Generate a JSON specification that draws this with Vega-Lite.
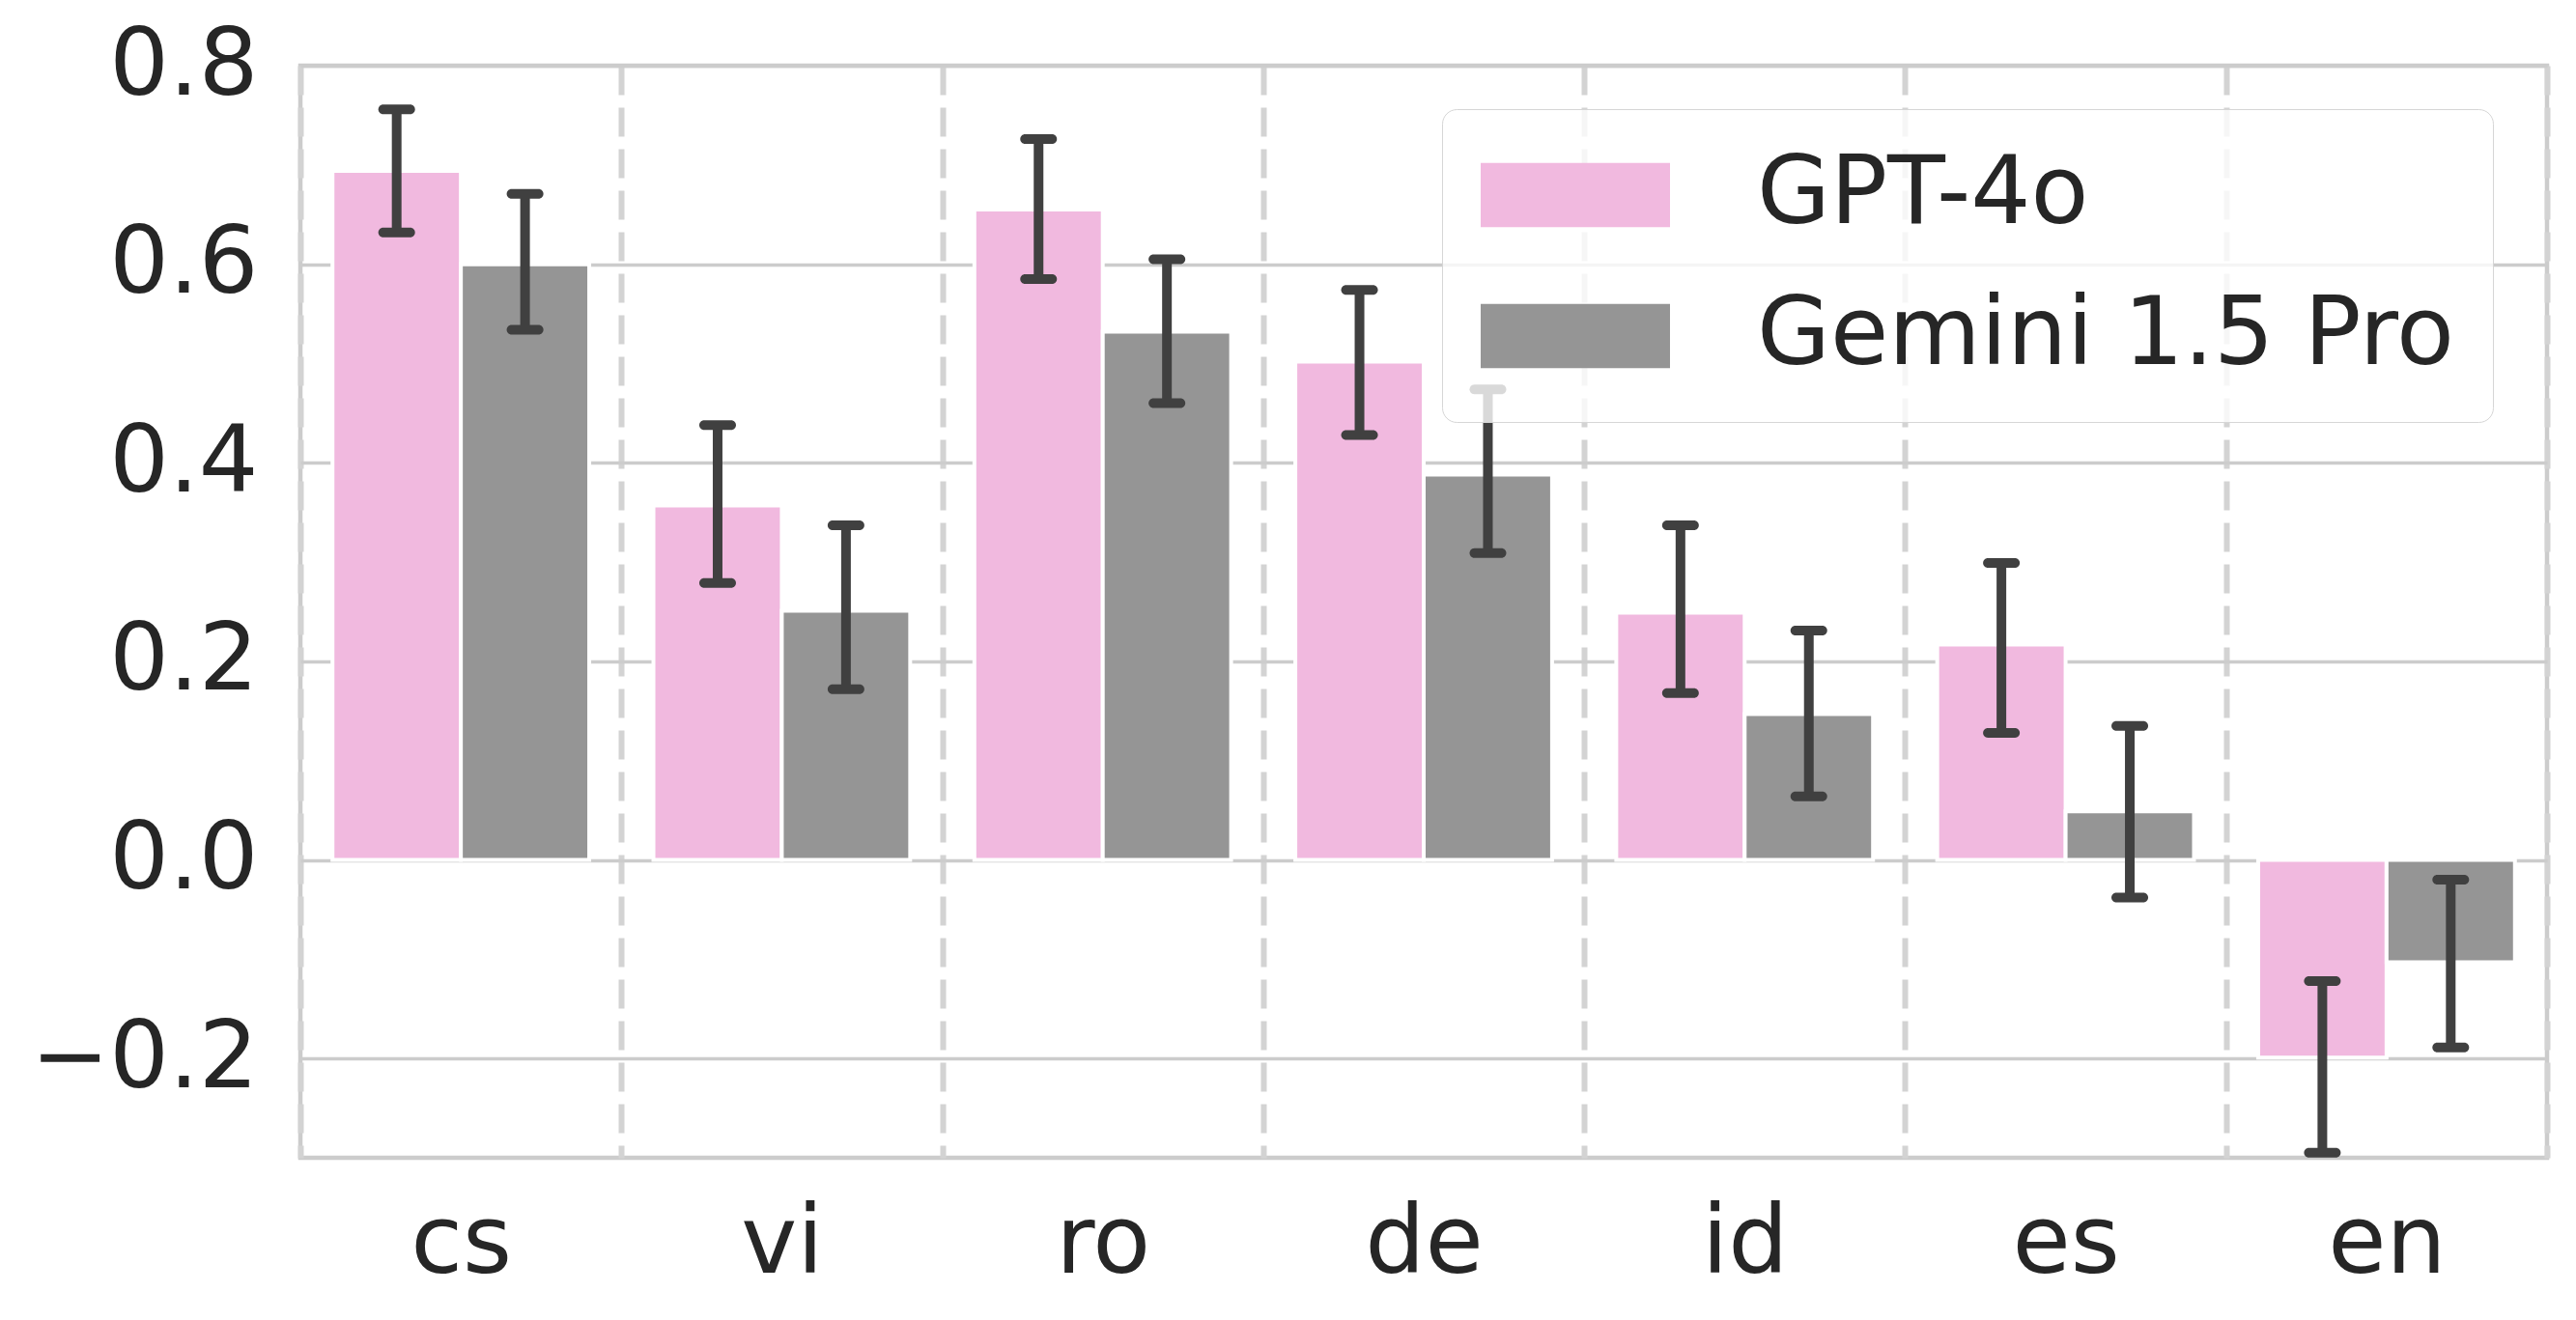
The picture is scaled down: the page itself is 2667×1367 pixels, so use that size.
{
  "$schema": "https://vega.github.io/schema/vega-lite/v6.json",
  "autosize": {"type": "none"},
  "padding": {"left": 311, "top": 68, "right": 30, "bottom": 168},
  "width": 2326,
  "height": 1131,
  "background": "white",
  "config": {
    "font": "DejaVu Sans",
    "view": {"stroke": "#cccccc", "strokeWidth": 4.5},
    "axis": {"labelFont": "DejaVu Sans", "labelColor": "#262626", "labelLimit": 2000}
  },
  "data": {
    "values": [
      {"lang": "cs", "model": "GPT-4o", "value": 0.694, "lo": 0.632, "hi": 0.756},
      {"lang": "cs", "model": "Gemini 1.5 Pro", "value": 0.600, "lo": 0.534, "hi": 0.671},
      {"lang": "vi", "model": "GPT-4o", "value": 0.357, "lo": 0.279, "hi": 0.438},
      {"lang": "vi", "model": "Gemini 1.5 Pro", "value": 0.251, "lo": 0.172, "hi": 0.337},
      {"lang": "ro", "model": "GPT-4o", "value": 0.655, "lo": 0.585, "hi": 0.726},
      {"lang": "ro", "model": "Gemini 1.5 Pro", "value": 0.532, "lo": 0.460, "hi": 0.605},
      {"lang": "de", "model": "GPT-4o", "value": 0.502, "lo": 0.428, "hi": 0.574},
      {"lang": "de", "model": "Gemini 1.5 Pro", "value": 0.388, "lo": 0.309, "hi": 0.474},
      {"lang": "id", "model": "GPT-4o", "value": 0.249, "lo": 0.168, "hi": 0.337},
      {"lang": "id", "model": "Gemini 1.5 Pro", "value": 0.147, "lo": 0.064, "hi": 0.231},
      {"lang": "es", "model": "GPT-4o", "value": 0.217, "lo": 0.128, "hi": 0.299},
      {"lang": "es", "model": "Gemini 1.5 Pro", "value": 0.049, "lo": -0.038, "hi": 0.135},
      {"lang": "en", "model": "GPT-4o", "value": -0.199, "lo": -0.295, "hi": -0.122},
      {"lang": "en", "model": "Gemini 1.5 Pro", "value": -0.103, "lo": -0.189, "hi": -0.020}
    ]
  },
  "encoding": {
    "x": {
      "field": "lang", "type": "nominal",
      "sort": ["cs", "vi", "ro", "de", "id", "es", "en"],
      "scale": {"paddingInner": 0, "paddingOuter": 0},
      "axis": {
        "title": null, "domain": false, "ticks": false, "tickSize": 0,
        "grid": true, "tickBand": "extent", "gridDash": [30, 13],
        "gridColor": "#d3d3d3", "gridWidth": 6,
        "labelFontSize": 98, "labelPadding": 41, "labelAngle": 0
      }
    },
    "xOffset": {
      "field": "model", "type": "nominal",
      "sort": ["GPT-4o", "Gemini 1.5 Pro"],
      "scale": {"paddingOuter": 0.25, "paddingInner": 0}
    }
  },
  "layer": [
    {
      "mark": {"type": "bar", "stroke": "white", "strokeWidth": 4},
      "encoding": {
        "y": {
          "field": "value", "type": "quantitative",
          "scale": {"domain": [-0.3, 0.8], "nice": false, "zero": false},
          "axis": {
            "title": null, "domain": false, "ticks": false, "tickSize": 0,
            "values": [-0.2, 0, 0.2, 0.4, 0.6, 0.8], "format": ".1f",
            "grid": true, "gridColor": "#cccccc", "gridWidth": 3.5,
            "labelFontSize": 97, "labelPadding": 44
          }
        },
        "color": {
          "field": "model", "type": "nominal",
          "scale": {"domain": ["GPT-4o", "Gemini 1.5 Pro"], "range": ["#f1b9df", "#959595"]},
          "legend": {
            "title": null, "orient": "none", "legendX": 1182, "legendY": 45,
            "padding": 40, "cornerRadius": 15,
            "strokeColor": "#d6d6d6",
            "fillColor": "rgba(255,255,255,0.8)",
            "symbolType": "M-1,-0.68H3V0.68H-1Z", "symbolSize": 9604,
            "symbolStrokeWidth": 0, "symbolOpacity": 1,
            "labelFontSize": 98, "labelFont": "DejaVu Sans", "labelColor": "#262626",
            "labelLimit": 2000,
            "labelOffset": 188, "rowPadding": 48,
            "encode": {"legend": {"update": {"strokeWidth": {"value": 3}}}}
          }
        }
      }
    },
    {
      "mark": {"type": "rule", "color": "#404040", "strokeWidth": 10},
      "encoding": {
        "y": {"field": "lo", "type": "quantitative"},
        "y2": {"field": "hi"}
      }
    },
    {
      "mark": {"type": "tick", "color": "#404040", "size": 38, "thickness": 10, "cornerRadius": 5, "opacity": 1},
      "encoding": {"y": {"field": "lo", "type": "quantitative"}}
    },
    {
      "mark": {"type": "tick", "color": "#404040", "size": 38, "thickness": 10, "cornerRadius": 5, "opacity": 1},
      "encoding": {"y": {"field": "hi", "type": "quantitative"}}
    }
  ]
}
